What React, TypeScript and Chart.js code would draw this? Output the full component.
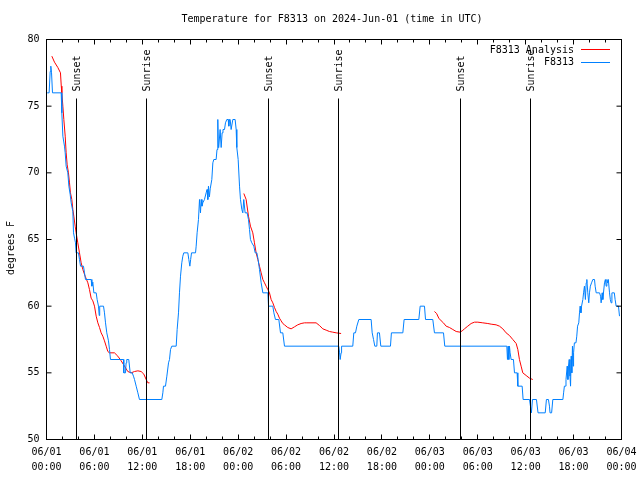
import React, { useEffect, useRef } from "react";
import { Chart, registerables } from "chart.js";

Chart.register(...registerables);

const TITLE = "Temperature for F8313 on 2024-Jun-01 (time in UTC)";
const Y_LABEL = "degrees F";
const SERIES_NAMES = ["F8313 Analysis", "F8313"];
const SERIES_COLORS = ["#ff0000", "#0080ff"];

const X_MIN = 0;
const X_MAX = 72;
const Y_MIN = 50;
const Y_MAX = 80;

const xTickDates = ["06/01", "06/01", "06/01", "06/01", "06/02", "06/02", "06/02", "06/02", "06/03", "06/03", "06/03", "06/03", "06/04"];
const xTickTimes = ["00:00", "06:00", "12:00", "18:00", "00:00", "06:00", "12:00", "18:00", "00:00", "06:00", "12:00", "18:00", "00:00"];

const sunEventHours = [3.75, 12.5, 27.8, 36.56, 51.83, 60.6];
const sunEventLabels = ["Sunset", "Sunrise", "Sunset", "Sunrise", "Sunset", "Sunrise"];

// Observations (hours since 06/01 00:00 UTC, degrees F)
const obsHours = [
  0.08, 0.33, 0.46, 0.54, 0.63, 0.75, 1.84, 1.92, 2.05, 2.25, 2.34, 2.46, 2.67, 2.8, 2.96, 3.09, 3.3, 3.38, 3.51, 3.63,
  3.71, 4.0, 4.13, 4.26, 4.63, 4.76, 4.88, 5.59, 5.68, 5.8, 5.93, 6.22, 6.34, 6.51, 6.6, 6.66, 7.14, 7.26, 7.39, 7.55,
  7.76, 7.89, 8.01, 9.64, 9.68, 9.89, 9.97, 10.05, 10.3, 10.48, 10.73, 10.89, 11.02, 11.23, 11.44, 11.64, 14.44, 14.57, 14.65, 14.9,
  15.07, 15.28, 15.4, 15.53, 15.69, 16.24, 16.36, 16.53, 16.65, 16.78, 16.94, 17.07, 17.19, 17.7, 17.82, 17.95, 18.05, 18.16, 18.66, 18.74,
  18.86, 19.03, 19.16, 19.28, 19.37, 19.47, 19.57, 19.78, 19.99, 20.1, 20.2, 20.28, 20.4, 20.5, 20.7, 20.83, 20.95, 21.24, 21.35, 21.45,
  21.52, 21.58, 21.74, 21.87, 21.99, 22.1, 22.29, 22.41, 22.58, 22.75, 22.83, 22.91, 23.0, 23.12, 23.33, 23.62, 23.75, 23.83, 24.0, 24.17,
  24.29, 24.46, 24.58, 24.7, 24.87, 25.12, 25.29, 25.42, 25.54, 25.71, 25.96, 26.13, 26.34, 26.5, 26.67, 26.88, 27.09, 27.72, 27.8, 28.34,
  28.47, 28.67, 29.09, 29.3, 29.59, 29.8, 36.6, 36.7, 36.77, 36.89, 36.95, 38.35, 38.48, 38.69, 38.86, 39.11, 40.65, 40.78, 40.95, 41.11,
  41.36, 41.44, 41.69, 41.86, 43.07, 43.19, 44.62, 44.78, 46.62, 46.79, 47.33, 47.46, 48.37, 48.58, 49.71, 49.87, 57.64, 57.72, 57.8, 57.89,
  57.97, 58.05, 58.18, 58.47, 58.6, 58.93, 59.02, 59.56, 59.68, 60.48, 60.6, 60.72, 60.85, 61.35, 61.55, 62.45, 62.6, 62.85, 62.98, 63.05,
  63.25, 63.4, 64.66, 64.75, 64.85, 65.0, 65.05, 65.2, 65.29, 65.36, 65.45, 65.55, 65.62, 65.7, 65.78, 65.86, 65.95, 66.0, 66.1, 66.3,
  66.4, 66.5, 66.65, 66.74, 66.82, 66.92, 67.0, 67.16, 67.25, 67.36, 67.48, 67.58, 67.66, 67.78, 67.9, 67.99, 68.1, 68.25, 68.41, 68.62,
  68.7, 68.83, 69.25, 69.38, 69.45, 69.58, 69.66, 69.87, 69.98, 70.08, 70.17, 70.25, 70.35, 70.5, 70.6, 70.7, 70.8, 70.92, 71.1, 71.2,
  71.33, 71.62, 71.75,
];
const obsTemps = [
  76, 76, 77.6, 78, 77.5, 76, 76, 74.5, 72.75, 72, 71.5, 70.5, 70, 69, 68.4, 67.75, 67.1, 65.5, 65.1, 64.75,
  64, 64, 63.5, 63, 63, 62.5, 62, 62, 61.5, 61.8, 61, 61, 60.5, 60, 59.3, 60, 60, 59.5, 58.75, 58,
  57.4, 56.75, 56, 56, 55, 55, 55.75, 56, 56, 55, 55, 54.75, 54.5, 54, 53.5, 53, 53, 53.5, 54, 54,
  54.75, 55.75, 56, 56.75, 57, 57, 58.25, 59.5, 61, 62.25, 63.25, 63.75, 64, 64, 63.5, 63, 63.5, 64, 64, 64.5,
  65.5, 66.5, 68, 67, 68, 67.5, 67.75, 68, 68.5, 68.75, 68, 69, 68.2, 68.8, 69.5, 70.75, 71, 71, 71.75, 74,
  71.9, 72, 73.25, 71.9, 73, 73.25, 73.25, 73.75, 74, 74, 73.5, 74, 74, 73.25, 74, 74, 73.25, 71.9, 71, 69,
  68, 67.25, 67, 68, 67, 67, 66.5, 65.75, 65, 64.75, 64.5, 64, 64, 63.5, 62.75, 61.75, 61, 61, 60, 60,
  59.5, 59, 59, 58, 58, 57, 57, 56.5, 56, 56.5, 57, 57, 58, 58, 58.5, 59, 59, 58, 57.5, 57,
  57, 58, 58, 57, 57, 58, 58, 59, 59, 60, 60, 59, 59, 58, 58, 57, 57, 56, 57, 56,
  57, 56.5, 56, 56, 55, 55, 54, 54, 53, 53, 52.5, 52, 53, 53, 52, 52, 53, 53, 52.5, 52,
  52, 53, 53, 53.5, 54, 54, 54.5, 55.5, 54.5, 55.5, 56, 54.75, 54, 56.25, 55, 57, 55.5, 56.5, 57.25, 57.25,
  57.75, 58.5, 58.75, 59.5, 60, 59.5, 60, 60.5, 61, 61.5, 60.5, 61.75, 62, 61, 60.25, 61, 61.5, 61.75, 62, 62,
  61.5, 61, 61, 60.75, 60.25, 61, 60.5, 61.75, 62, 61.5, 62, 61.75, 62, 61, 60.5, 60.25, 61, 61, 61, 60.5,
  60, 60, 59.25,
];

// Analysis, three separate runs
const anaRun1Hours = [0.67, 1.0, 1.42, 1.75, 1.85, 1.92, 2.05, 2.17, 2.34, 2.46, 2.59, 2.75, 2.88, 3.0, 3.17, 3.3, 3.42, 3.59, 3.71, 3.92, 4.13, 4.34, 4.55, 4.84, 5.18, 5.38, 5.59, 5.8, 6.01, 6.22, 6.43, 6.64, 6.84, 7.05, 7.26, 7.47, 7.68, 7.89, 8.51, 8.93, 9.35, 9.77, 10.18, 10.6, 11.02, 11.44, 11.85, 12.19, 12.48, 12.69, 12.9];
const anaRun1Temps = [78.75, 78.3, 77.9, 77.5, 76.5, 76, 75, 74, 72.75, 71.5, 70.6, 70, 69.25, 68.5, 68, 67.25, 66.75, 66, 65.5, 64.75, 64, 63.25, 62.75, 62.25, 61.75, 61.25, 60.6, 60.4, 60, 59.25, 58.75, 58.4, 58, 57.75, 57.4, 57, 56.6, 56.5, 56.5, 56.25, 55.9, 55.5, 55.1, 55, 55.1, 55.15, 55.1, 54.9, 54.5, 54.25, 54.25];
const anaRun2Hours = [24.71, 25.0, 25.29, 25.54, 25.83, 26.04, 26.25, 26.46, 26.67, 26.88, 27.09, 27.3, 27.5, 27.71, 27.92, 28.13, 28.34, 28.55, 28.76, 28.96, 29.17, 29.38, 29.59, 29.8, 30.21, 30.63, 31.05, 31.46, 31.88, 32.3, 32.51, 33.76, 34.18, 34.6, 35.02, 35.43, 35.85, 36.27, 36.89];
const anaRun2Temps = [68.45, 68, 66.75, 66, 65.5, 64.75, 64, 63.5, 63, 62.5, 62, 61.75, 61.5, 61.25, 61, 60.5, 60.25, 59.9, 59.6, 59.4, 59.1, 58.9, 58.7, 58.6, 58.4, 58.3, 58.45, 58.6, 58.7, 58.75, 58.75, 58.75, 58.55, 58.3, 58.2, 58.1, 58.05, 58.0, 57.95];
const anaRun3Hours = [48.58, 48.85, 49.12, 49.42, 49.7, 50.04, 50.46, 50.88, 51.3, 51.79, 52.05, 52.34, 52.75, 53.17, 53.59, 54.01, 54.63, 55.26, 55.68, 56.3, 56.72, 57.14, 57.55, 57.97, 58.39, 58.81, 59.02, 59.22, 59.43, 59.64, 60.06, 60.48, 60.89];
const anaRun3Temps = [59.6, 59.45, 59.1, 58.9, 58.75, 58.5, 58.4, 58.25, 58.1, 58.05, 58.15, 58.3, 58.5, 58.7, 58.8, 58.8, 58.75, 58.7, 58.65, 58.6, 58.5, 58.3, 58.0, 57.8, 57.5, 57.2, 56.75, 56.0, 55.5, 55.0, 54.8, 54.6, 54.5];

const FONT = "'DejaVu Sans Mono', 'Liberation Mono', monospace";

function toPoints(hours: number[], temps: number[]) {
  return hours.map((h, i) => ({ x: h, y: temps[i] }));
}

function joinRuns(runs: [number[], number[]][]) {
  const out: { x: number; y: number | null }[] = [];
  runs.forEach(([h, t], k) => {
    if (k > 0) out.push({ x: h[0], y: null });
    out.push(...toPoints(h, t));
  });
  return out;
}

const decorPlugin = {
  id: "decor",
  afterDraw(chart: any) {
    const { ctx, chartArea: a, scales } = chart;
    const xs = scales.x;
    const ys = scales.y;
    ctx.save();
    ctx.strokeStyle = "#000";
    ctx.lineWidth = 1;

    // sunrise / sunset markers
    const lineTop = a.top + (a.bottom - a.top) * 0.1475;
    ctx.font = `10px ${FONT}`;
    ctx.fillStyle = "#000";
    sunEventHours.forEach((h, i) => {
      const px = Math.floor(xs.getPixelForValue(h)) + 0.5;
      ctx.beginPath();
      ctx.moveTo(px, lineTop);
      ctx.lineTo(px, a.bottom);
      ctx.stroke();
      ctx.save();
      ctx.translate(px + 1, lineTop - 7);
      ctx.rotate(-Math.PI / 2);
      ctx.textAlign = "left";
      ctx.textBaseline = "middle";
      ctx.fillText(sunEventLabels[i], 0, 0);
      ctx.restore();
    });

    // border
    ctx.strokeRect(a.left, a.top, a.right - a.left, a.bottom - a.top);

    // y ticks (both sides, inward)
    ys.ticks.forEach((t: any) => {
      const py = ys.getPixelForValue(t.value);
      ctx.beginPath();
      ctx.moveTo(a.left, py);
      ctx.lineTo(a.left + 5, py);
      ctx.moveTo(a.right, py);
      ctx.lineTo(a.right - 5, py);
      ctx.stroke();
    });

    // x ticks: major every 6 h, minor every 2 h
    for (let h = X_MIN; h <= X_MAX; h += 2) {
      const px = Math.floor(xs.getPixelForValue(h)) + 0.5;
      const len = h % 6 === 0 ? 5 : 3;
      ctx.beginPath();
      ctx.moveTo(px, a.bottom);
      ctx.lineTo(px, a.bottom - len);
      ctx.moveTo(px, a.top);
      ctx.lineTo(px, a.top + len);
      ctx.stroke();
    }

    // title
    ctx.textAlign = "center";
    ctx.textBaseline = "middle";
    ctx.fillText(TITLE, 332, 19.5);

    // y axis label
    ctx.save();
    ctx.translate(11, 248);
    ctx.rotate(-Math.PI / 2);
    ctx.fillText(Y_LABEL, 0, 0);
    ctx.restore();

    // legend
    const legY = [50, 62.5];
    SERIES_NAMES.forEach((name, i) => {
      ctx.textAlign = "right";
      ctx.textBaseline = "middle";
      ctx.fillStyle = "#000";
      ctx.fillText(name, 574, legY[i]);
      ctx.strokeStyle = SERIES_COLORS[i];
      ctx.beginPath();
      ctx.moveTo(581, Math.floor(legY[i]) + 0.5 - (i === 0 ? 1 : 0));
      ctx.lineTo(610, Math.floor(legY[i]) + 0.5 - (i === 0 ? 1 : 0));
      ctx.stroke();
    });
    ctx.restore();
  },
};

export default function App() {
  const ref = useRef<HTMLCanvasElement | null>(null);

  useEffect(() => {
    if (!ref.current) return;
    const chart = new Chart(ref.current, {
      type: "line",
      data: {
        datasets: [
          {
            label: SERIES_NAMES[1],
            data: toPoints(obsHours, obsTemps),
            borderColor: SERIES_COLORS[1],
            borderWidth: 1,
            pointRadius: 0,
            tension: 0,
            fill: false,
          },
          {
            label: SERIES_NAMES[0],
            data: joinRuns([
              [anaRun1Hours, anaRun1Temps],
              [anaRun2Hours, anaRun2Temps],
              [anaRun3Hours, anaRun3Temps],
            ]) as any,
            borderColor: SERIES_COLORS[0],
            borderWidth: 1,
            pointRadius: 0,
            tension: 0,
            fill: false,
            spanGaps: false,
          },
        ],
      },
      options: {
        animation: false,
        responsive: false,
        maintainAspectRatio: false,
        layout: { padding: { top: 39.5, right: 18.5, left: 0, bottom: 0 } },
        plugins: {
          legend: { display: false },
          title: { display: false },
          tooltip: { enabled: false },
        },
        scales: {
          x: {
            type: "linear",
            min: X_MIN,
            max: X_MAX,
            grid: { display: false, drawTicks: false },
            border: { display: false },
            afterFit: (s: any) => {
              s.height = 40.5;
              s.paddingLeft = 0;
              s.paddingRight = 0;
            },
            ticks: {
              stepSize: 6,
              autoSkip: false,
              maxRotation: 0,
              minRotation: 0,
              padding: 6,
              color: "#000",
              font: { family: FONT, size: 10, lineHeight: 1.45 },
              callback: (v: any) => {
                const i = Math.round(Number(v) / 6);
                return [xTickDates[i], xTickTimes[i]];
              },
            },
          },
          y: {
            type: "linear",
            min: Y_MIN,
            max: Y_MAX,
            grid: { display: false, drawTicks: false },
            border: { display: false },
            afterFit: (s: any) => {
              s.width = 46.5;
              s.paddingTop = 0;
              s.paddingBottom = 0;
            },
            ticks: {
              stepSize: 5,
              padding: 7,
              color: "#000",
              font: { family: FONT, size: 10 },
            },
          },
        },
      },
      plugins: [decorPlugin],
    });
    return () => chart.destroy();
  }, []);

  return (
    <div style={{ position: "absolute", left: 0, top: 0, width: 640, height: 480, background: "#fff" }}>
      <canvas ref={ref} width={640} height={480} style={{ display: "block" }} />
    </div>
  );
}
